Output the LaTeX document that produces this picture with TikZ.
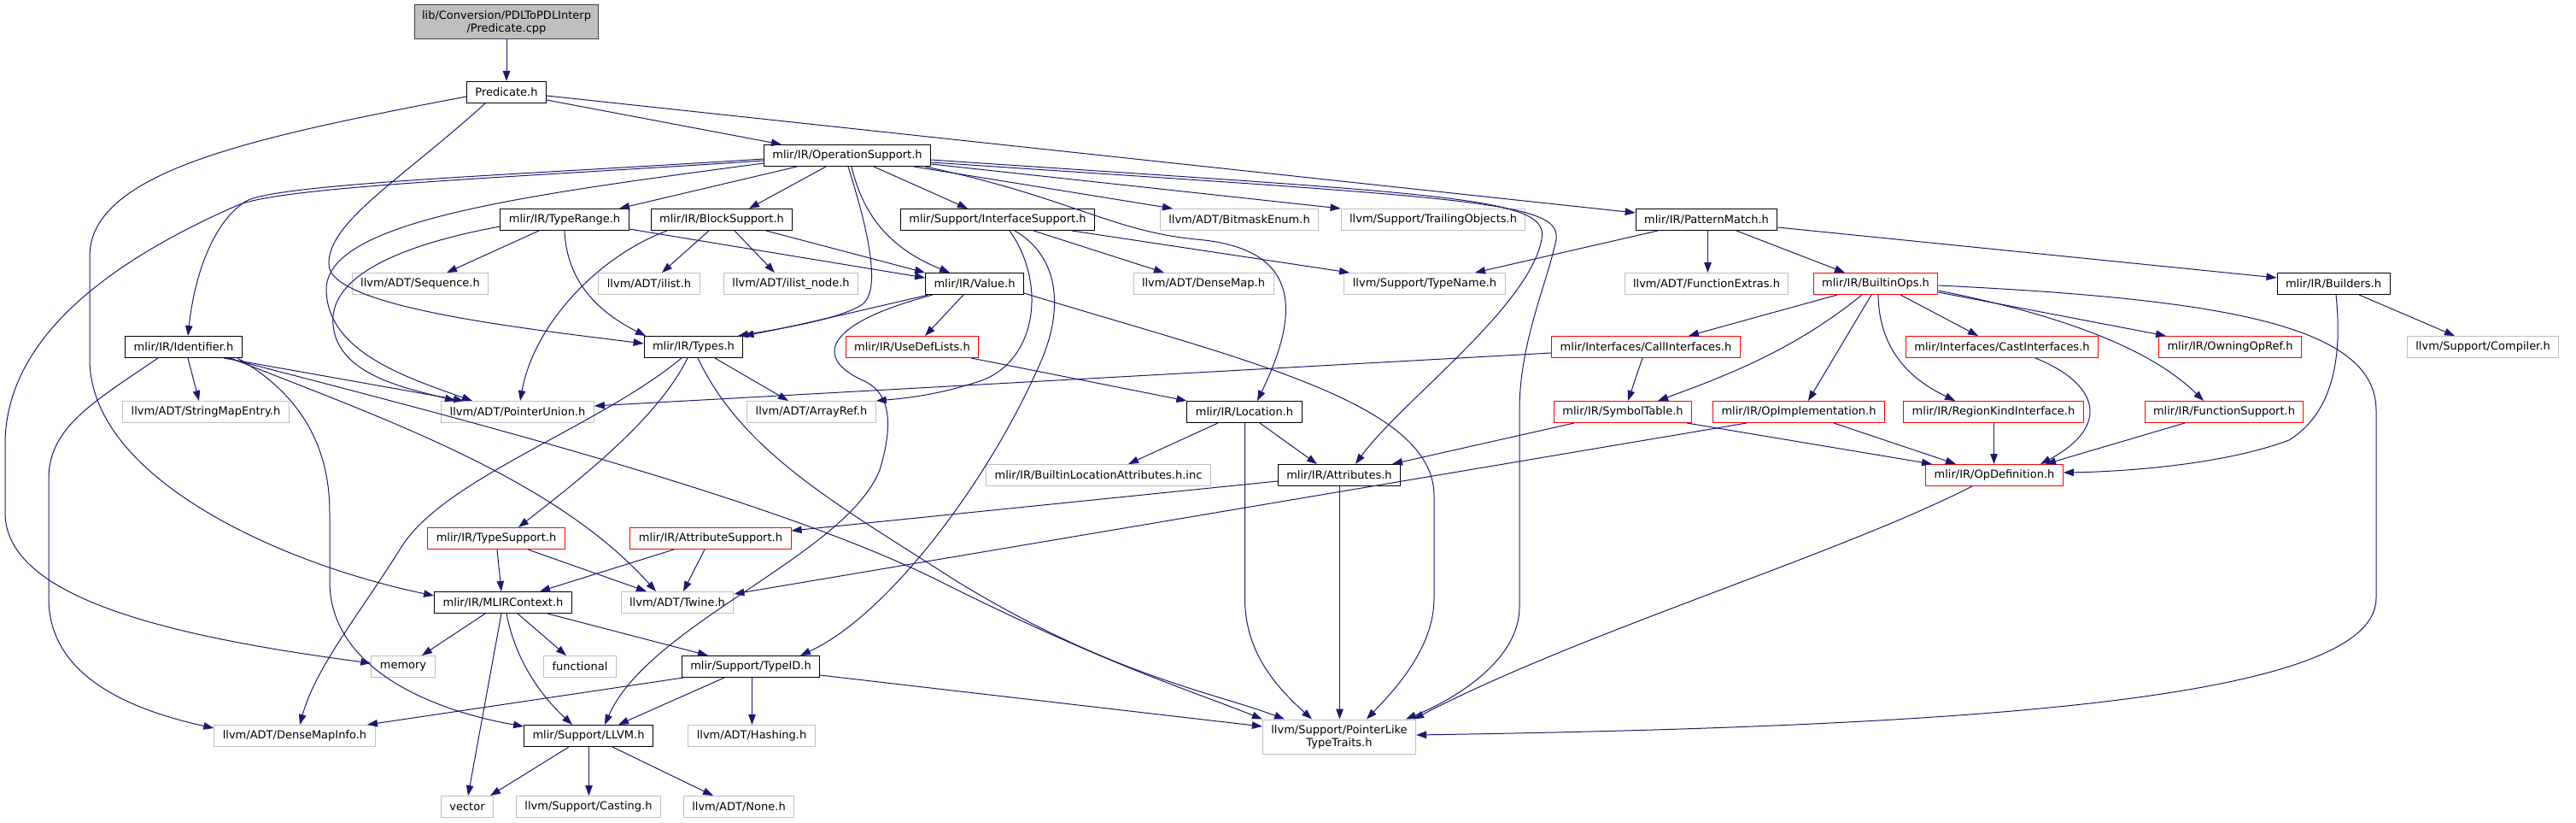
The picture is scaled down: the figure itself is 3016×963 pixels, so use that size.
\documentclass[tikz,border=0pt]{standalone}
\usepackage{fontspec}
\newfontfamily\graphfont{DejaVu Sans}
\usetikzlibrary{arrows.meta}
\definecolor{edgeblue}{HTML}{191970}
\definecolor{extgrey}{HTML}{BFBFBF}
\definecolor{rootline}{HTML}{404040}

\begin{document}
\begin{tikzpicture}[x=1pt, y=-1pt,
  every node/.style={font=\graphfont\fontsize{13}{15}\selectfont, inner xsep=10pt, inner ysep=2pt,
    minimum height=25pt, line width=1pt, fill=white},
  docnode/.style={draw=black},
  extnode/.style={draw=extgrey},
  truncnode/.style={draw=red},
  rootnode/.style={draw=rootline, fill=extgrey, align=center, minimum height=40pt, inner xsep=9pt},
  incl/.style={draw=edgeblue, line width=1pt, -{Triangle[length=12pt,width=8.5pt]}}]
  \useasboundingbox (0,0) rectangle (3016,963);

  % files
  \node[rootnode] (cpp) at (593,26) {lib/Conversion/PDLToPDLInterp\\/Predicate.cpp};
  \node[docnode] (predh) at (593,108) {Predicate.h};
  \node[docnode] (opsup) at (992,182) {mlir/IR/OperationSupport.h};
  \node[docnode] (typerange) at (661,257) {mlir/IR/TypeRange.h};
  \node[docnode] (blocksup) at (845,257) {mlir/IR/BlockSupport.h};
  \node[docnode] (ifacesup) at (1168,257) {mlir/Support/InterfaceSupport.h};
  \node[extnode] (bitmask) at (1451,257) {llvm/ADT/BitmaskEnum.h};
  \node[extnode] (trailing) at (1678,257) {llvm/Support/TrailingObjects.h};
  \node[docnode] (patmatch) at (1998,257) {mlir/IR/PatternMatch.h};
  \node[extnode] (sequence) at (492,332) {llvm/ADT/Sequence.h};
  \node[extnode] (ilist) at (760,332) {llvm/ADT/ilist.h};
  \node[extnode] (ilistnode) at (926,332) {llvm/ADT/ilist\_node.h};
  \node[docnode] (value) at (1141,332) {mlir/IR/Value.h};
  \node[extnode] (densemap) at (1409,332) {llvm/ADT/DenseMap.h};
  \node[extnode] (typename) at (1668,332) {llvm/Support/TypeName.h};
  \node[extnode] (funcextras) at (1998,332) {llvm/ADT/FunctionExtras.h};
  \node[truncnode] (builtinops) at (2196,332) {mlir/IR/BuiltinOps.h};
  \node[docnode] (builders) at (2732,332) {mlir/IR/Builders.h};
  \node[docnode] (identifier) at (215,406) {mlir/IR/Identifier.h};
  \node[docnode] (types) at (812,406) {mlir/IR/Types.h};
  \node[truncnode] (usedef) at (1068,406) {mlir/IR/UseDefLists.h};
  \node[truncnode] (callif) at (1927,406) {mlir/Interfaces/CallInterfaces.h};
  \node[truncnode] (castif) at (2344,406) {mlir/Interfaces/CastInterfaces.h};
  \node[truncnode] (owning) at (2611,406) {mlir/IR/OwningOpRef.h};
  \node[extnode] (compiler) at (2907,406) {llvm/Support/Compiler.h};
  \node[extnode] (stringmap) at (241,482) {llvm/ADT/StringMapEntry.h};
  \node[extnode] (ptrunion) at (606,482) {llvm/ADT/PointerUnion.h};
  \node[extnode] (arrayref) at (950,482) {llvm/ADT/ArrayRef.h};
  \node[docnode] (location) at (1457,482) {mlir/IR/Location.h};
  \node[truncnode] (symtable) at (1900,482) {mlir/IR/SymbolTable.h};
  \node[truncnode] (opimpl) at (2106,482) {mlir/IR/OpImplementation.h};
  \node[truncnode] (regionkind) at (2334,482) {mlir/IR/RegionKindInterface.h};
  \node[truncnode] (funcsup) at (2604,482) {mlir/IR/FunctionSupport.h};
  \node[extnode] (bla) at (1286,556) {mlir/IR/BuiltinLocationAttributes.h.inc};
  \node[docnode] (attrs) at (1568,556) {mlir/IR/Attributes.h};
  \node[truncnode] (opdef) at (2335,556) {mlir/IR/OpDefinition.h};
  \node[truncnode] (typesup) at (581,630) {mlir/IR/TypeSupport.h};
  \node[truncnode] (attrsup) at (832,630) {mlir/IR/AttributeSupport.h};
  \node[docnode] (mlirctx) at (589,705) {mlir/IR/MLIRContext.h};
  \node[extnode] (twine) at (793,705) {llvm/ADT/Twine.h};
  \node[extnode] (memory) at (472,780) {memory};
  \node[extnode] (functional) at (679,780) {functional};
  \node[docnode] (typeid) at (879,780) {mlir/Support/TypeID.h};
  \node[extnode] (densemapinfo) at (345,861) {llvm/ADT/DenseMapInfo.h};
  \node[docnode] (llvmh) at (689,861) {mlir/Support/LLVM.h};
  \node[extnode] (hashing) at (880,861) {llvm/ADT/Hashing.h};
  \node[extnode, align=center, minimum height=40pt] (ptrlike) at (1568,862) {llvm/Support/PointerLike\\TypeTraits.h};
  \node[extnode] (vector) at (547,944) {vector};
  \node[extnode] (casting) at (689,944) {llvm/Support/Casting.h};
  \node[extnode] (none) at (865,944) {llvm/ADT/None.h};

  % Predicate.cpp, Predicate.h
  \draw[incl] (cpp.south) -- (predh.north);
  \draw[incl] (predh.east |- 0,117) -- (opsup.north -| 915,0);
  \draw[incl] (predh.east |- 0,112) -- (patmatch.west |- 0,249);
  \draw[incl] (predh.south -| 568,0) .. controls (470,210) and (383,260) .. (385,310)
    .. controls (387,360) and (620,385) .. (types.west |- 0,402);
  \draw[incl] (predh.west |- 0,113) .. controls (300,160) and (105,200) .. (105,300) -- (105,420)
    .. controls (105,560) and (330,660) .. (mlirctx.west |- 0,697);

  % OperationSupport.h
  \draw[incl] (opsup.south -| 933,0) -- (typerange.north -| 725,0);
  \draw[incl] (opsup.south -| 967,0) -- (blocksup.north -| 877,0);
  \draw[incl] (opsup.south -| 1023,0) -- (ifacesup.north -| 1133,0);
  \draw[incl] (opsup.south -| 1070,0) -- (bitmask.north -| 1373,0);
  \draw[incl] (opsup.east |- 0,192) -- (trailing.north west);
  \draw[incl] (opsup.south -| 997,0) .. controls (1010,250) and (1040,290) .. (value.north -| 1112,0);
  \draw[incl] (opsup.south -| 993,0) .. controls (1020,280) and (1030,340) .. (1010,356)
    .. controls (985,372) and (930,382) .. (types.north -| 864,0);
  \draw[incl] (opsup.west |- 0,186) .. controls (600,205) and (320,215) .. (287,236)
    .. controls (250,260) and (228,320) .. (identifier.north -| 220,0);
  \draw[incl] (opsup.west |- 0,188) .. controls (600,208) and (320,218) .. (274,242)
    .. controls (120,310) and (6,400) .. (6,520) -- (6,600)
    .. controls (6,700) and (200,745) .. (memory.west |- 0,776);
  \draw[incl] (opsup.west |- 0,191) .. controls (600,230) and (380,260) .. (382,340)
    .. controls (384,410) and (470,440) .. (ptrunion.north -| 553,0);
  \draw[incl] (opsup.south -| 1083,0) .. controls (1250,230) and (1300,270) .. (1400,280)
    .. controls (1520,290) and (1525,360) .. (location.north -| 1472,0);
  \draw[incl] (opsup.east |- 0,187) .. controls (1700,228) and (1815,230) .. (1805,280)
    .. controls (1790,360) and (1640,470) .. (attrs.north -| 1587,0);
  \draw[incl] (opsup.east |- 0,190) .. controls (1720,232) and (1828,235) .. (1822,280)
    .. controls (1812,330) and (1779,400) .. (1779,480) -- (1779,710)
    .. controls (1779,770) and (1710,815) .. (ptrlike.north -| 1646,0);

  % TypeRange.h, BlockSupport.h
  \draw[incl] (typerange.south -| 631,0) -- (sequence.north -| 523,0);
  \draw[incl] (typerange.south -| 661,0) .. controls (663,320) and (690,360) .. (types.north -| 756,0);
  \draw[incl] (typerange.east |- 0,268) -- (value.west |- 0,325);
  \draw[incl] (typerange.west |- 0,265) .. controls (450,290) and (385,330) .. (390,380)
    .. controls (395,440) and (480,455) .. (ptrunion.north -| 533,0);
  \draw[incl] (blocksup.south -| 897,0) -- (value.north west);
  \draw[incl] (blocksup.south -| 830,0) -- (ilist.north -| 775,0);
  \draw[incl] (blocksup.south -| 860,0) -- (ilistnode.north -| 907,0);
  \draw[incl] (blocksup.south -| 781,0) .. controls (700,300) and (625,380) .. (ptrunion.north -| 609,0);

  % InterfaceSupport.h
  \draw[incl] (ifacesup.south -| 1210,0) -- (densemap.north -| 1363,0);
  \draw[incl] (ifacesup.south -| 1255,0) -- (typename.north -| 1580,0);
  \draw[incl] (ifacesup.south -| 1182,0) .. controls (1225,330) and (1215,420) .. (1150,445)
    .. controls (1100,462) and (1060,466) .. (arrayref.north east);
  \draw[incl] (ifacesup.south -| 1188,0) .. controls (1240,300) and (1245,360) .. (1220,420)
    .. controls (1160,560) and (1040,720) .. (typeid.north -| 937,0);

  % Value.h
  \draw[incl] (value.south -| 1087,0) .. controls (1000,365) and (930,382) .. (types.north east);
  \draw[incl] (value.south -| 1128,0) -- (usedef.north -| 1083,0);
  \draw[incl] (value.south -| 1092,0) .. controls (960,380) and (955,420) .. (1010,445)
    .. controls (1045,460) and (1045,500) .. (1030,550)
    .. controls (990,650) and (760,730) .. (llvmh.north -| 708,0);
  \draw[incl] (value.east |- 0,343) .. controls (1450,420) and (1679,470) .. (1679,580) -- (1679,700)
    .. controls (1679,760) and (1630,810) .. (ptrlike.north -| 1600,0);
  \draw[incl] (usedef.south -| 1137,0) -- (location.north west);

  % Location.h, Attributes.h
  \draw[incl] (location.south -| 1426,0) -- (bla.north -| 1321,0);
  \draw[incl] (location.south -| 1475,0) -- (attrs.north -| 1542,0);
  \draw[incl] (location.south -| 1457.5,0) -- (1457.5,700) .. controls (1457.5,760) and (1490,800) .. (ptrlike.north -| 1536,0);
  \draw[incl] (attrs.south -| 1568.5,0) -- (ptrlike.north -| 1568.5,0);
  \draw[incl] (attrs.west |- 0,563) -- (attrsup.east |- 0,621);

  % PatternMatch.h, Builders.h
  \draw[incl] (patmatch.south -| 1941,0) -- (typename.north -| 1727,0);
  \draw[incl] (patmatch.south -| 1999.5,0) -- (funcextras.north -| 1999.5,0);
  \draw[incl] (patmatch.south -| 2033,0) -- (builtinops.north -| 2160,0);
  \draw[incl] (patmatch.east |- 0,266) -- (builders.west |- 0,325);
  \draw[incl] (builders.south -| 2762,0) -- (compiler.north -| 2874,0);
  \draw[incl] (builders.south -| 2735,0) .. controls (2745,440) and (2720,490) .. (2680,515)
    .. controls (2600,545) and (2480,552) .. (opdef.east |- 0,553);

  % BuiltinOps.h
  \draw[incl] (builtinops.south -| 2151,0) -- (callif.north -| 1977,0);
  \draw[incl] (builtinops.south -| 2180,0) .. controls (2100,410) and (2020,440) .. (symtable.north -| 1941,0);
  \draw[incl] (builtinops.south -| 2191,0) -- (opimpl.north -| 2117,0);
  \draw[incl] (builtinops.south -| 2199,0) .. controls (2200,420) and (2250,450) .. (regionkind.north -| 2289,0);
  \draw[incl] (builtinops.south -| 2225,0) -- (castif.north -| 2316,0);
  \draw[incl] (builtinops.east |- 0,342) -- (owning.north -| 2536,0);
  \draw[incl] (builtinops.east |- 0,340) .. controls (2420,370) and (2520,410) .. (funcsup.north -| 2580,0);
  \draw[incl] (builtinops.east |- 0,334) .. controls (2600,350) and (2782,380) .. (2782,480) -- (2782,700)
    .. controls (2782,820) and (2300,850) .. (ptrlike.east |- 0,860);

  % interfaces and OpDefinition.h
  \draw[incl] (callif.west |- 0,413) -- (ptrunion.east |- 0,475);
  \draw[incl] (callif.south -| 1923,0) -- (symtable.north -| 1906,0);
  \draw[incl] (symtable.south -| 1843,0) -- (attrs.north -| 1630,0);
  \draw[incl] (symtable.south -| 1975,0) -- (opdef.north -| 2262,0);
  \draw[incl] (castif.south -| 2383,0) .. controls (2460,450) and (2470,500) .. (opdef.north -| 2389,0);
  \draw[incl] (regionkind.south -| 2334.5,0) -- (opdef.north -| 2334.5,0);
  \draw[incl] (funcsup.south -| 2558,0) -- (opdef.north -| 2395,0);
  \draw[incl] (opimpl.south -| 2147,0) -- (opdef.north -| 2290,0);
  \draw[incl] (opimpl.south -| 2045,0) -- (twine.east |- 0,695);
  \draw[incl] (opdef.south -| 2309,0) .. controls (2150,650) and (1850,740) .. (ptrlike.north -| 1655,0);

  % Types.h, Identifier.h
  \draw[incl] (types.south -| 837,0) -- (arrayref.north -| 923,0);
  \draw[incl] (types.south -| 798,0) .. controls (700,500) and (520,560) .. (470,640)
    .. controls (420,720) and (370,780) .. (densemapinfo.north -| 351,0);
  \draw[incl] (types.south -| 805,0) .. controls (770,490) and (680,560) .. (typesup.north -| 607,0);
  \draw[incl] (types.south -| 817,0) .. controls (870,530) and (980,590) .. (1120,680)
    .. controls (1300,790) and (1420,810) .. (ptrlike.north -| 1504,0);
  \draw[incl] (identifier.south -| 220,0) -- (stringmap.north -| 233,0);
  \draw[incl] (identifier.south -| 262,0) -- (ptrunion.north -| 543,0);
  \draw[incl] (identifier.south -| 185,0) .. controls (110,470) and (57,500) .. (57,560) -- (57,700)
    .. controls (57,790) and (150,830) .. (densemapinfo.west |- 0,852);
  \draw[incl] (identifier.south -| 270,0) .. controls (450,490) and (650,560) .. (twine.north -| 768,0);
  \draw[incl] (identifier.south -| 278,0) .. controls (350,460) and (386,520) .. (386,600) -- (386,680)
    .. controls (386,780) and (500,830) .. (llvmh.west |- 0,850);
  \draw[incl] (identifier.south -| 266,0) .. controls (500,480) and (900,580) .. (1100,680)
    .. controls (1300,780) and (1400,810) .. (ptrlike.north west);

  % TypeSupport.h, AttributeSupport.h, MLIRContext.h
  \draw[incl] (typesup.south -| 582,0) -- (mlirctx.north -| 587,0);
  \draw[incl] (typesup.south -| 618,0) -- (twine.north -| 757,0);
  \draw[incl] (attrsup.south -| 789,0) -- (mlirctx.north -| 632,0);
  \draw[incl] (attrsup.south -| 825,0) -- (twine.north -| 800,0);
  \draw[incl] (mlirctx.south -| 568,0) -- (memory.north -| 494,0);
  \draw[incl] (mlirctx.south -| 606,0) -- (functional.north -| 663,0);
  \draw[incl] (mlirctx.south -| 641,0) -- (typeid.north -| 829,0);
  \draw[incl] (mlirctx.south -| 587,0) -- (vector.north -| 548,0);
  \draw[incl] (mlirctx.south -| 593,0) .. controls (605,780) and (640,820) .. (llvmh.north -| 670,0);

  % TypeID.h, LLVM.h
  \draw[incl] (typeid.south -| 800,0) -- (densemapinfo.north -| 430,0);
  \draw[incl] (typeid.south -| 848,0) -- (llvmh.north -| 724,0);
  \draw[incl] (typeid.south -| 880.5,0) -- (hashing.north -| 880.5,0);
  \draw[incl] (typeid.east |- 0,790) -- (ptrlike.west |- 0,850);
  \draw[incl] (llvmh.south -| 666,0) -- (vector.north -| 574,0);
  \draw[incl] (llvmh.south -| 689.5,0) -- (casting.north -| 689.5,0);
  \draw[incl] (llvmh.south -| 717,0) -- (none.north -| 835,0);
\end{tikzpicture}
\end{document}
